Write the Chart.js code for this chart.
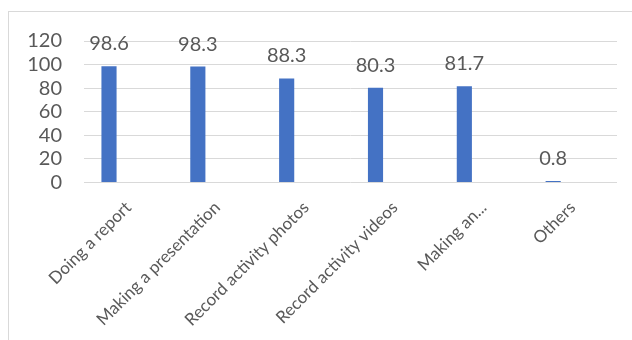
<!DOCTYPE html>
<html>
<head>
<meta charset="utf-8">
<script src="https://cdn.jsdelivr.net/npm/chart.js@4/dist/chart.umd.min.js"></script>
<style>
  html, body { margin: 0; padding: 0; background: #fff; overflow: hidden; }
  #wrap { position: relative; width: 632px; height: 340px; }
  #frame { position: absolute; left: 8px; top: 11px; width: 700px; height: 400px;
           border: 1px solid #d9d9d9; box-sizing: border-box; }
  canvas { position: absolute; left: 0; top: 0; }
</style>
</head>
<body>
<div id="wrap">
  <div id="frame"></div>
  <canvas id="c" width="632" height="340"></canvas>
</div>
<script>
// Purposes of use (%)
const categories = ['Doing a report', 'Making a presentation', 'Record activity photos',
                    'Record activity videos', 'Making an...', 'Others'];
const usageValues = [98.6, 98.3, 88.3, 80.3, 81.7, 0.8];
// empty second series that keeps the bars to the left half of each category
const blankSeries = [null, null, null, null, null, null];
const yTicks = [0, 20, 40, 60, 80, 100, 120];

const textColor = '#595959';
const fontFamily = 'Lato, Carlito, "Open Sans", sans-serif';

const valueLabels = {
  id: 'valueLabels',
  afterDatasetsDraw(chart) {
    const ctx = chart.ctx;
    const meta = chart.getDatasetMeta(0);
    ctx.save();
    ctx.font = '20px ' + fontFamily;
    ctx.fillStyle = textColor;
    ctx.textAlign = 'center';
    ctx.textBaseline = 'alphabetic';
    meta.data.forEach((bar, i) => {
      ctx.fillText(String(usageValues[i]), bar.x, bar.y - 16);
    });
    ctx.restore();
  }
};

new Chart(document.getElementById('c'), {
  type: 'bar',
  data: {
    labels: categories,
    datasets: [
      { data: usageValues, backgroundColor: '#4472C4', borderWidth: 0,
        barPercentage: 0.39, categoryPercentage: 0.874, minBarLength: 1.5 },
      { data: blankSeries, backgroundColor: '#ED7D31', borderWidth: 0,
        barPercentage: 0.39, categoryPercentage: 0.874 }
    ]
  },
  options: {
    responsive: false,
    animation: false,
    devicePixelRatio: 1,
    layout: { padding: { top: 41, right: 15, left: 0, bottom: 0 } },
    plugins: { legend: { display: false }, tooltip: { enabled: false } },
    scales: {
      x: {
        offset: true,
        grid: { display: false, drawTicks: false },
        border: { display: false },
        ticks: {
          autoSkip: false, maxRotation: 45, minRotation: 45, padding: 15,
          color: textColor, font: { family: fontFamily, size: 17 }
        },
        afterFit(s) { s.height = 340 - 182.5; }
      },
      y: {
        min: 0, max: 120,
        afterBuildTicks(s) { s.ticks = yTicks.map(v => ({ value: v })); },
        grid: { color: '#d9d9d9', lineWidth: 1, drawTicks: false },
        border: { display: false },
        ticks: { autoSkip: false, padding: 22, color: textColor,
                 font: { family: fontFamily, size: 20 } },
        afterFit(s) { s.width = 84; }
      }
    }
  },
  plugins: [valueLabels]
});
</script>
</body>
</html>
